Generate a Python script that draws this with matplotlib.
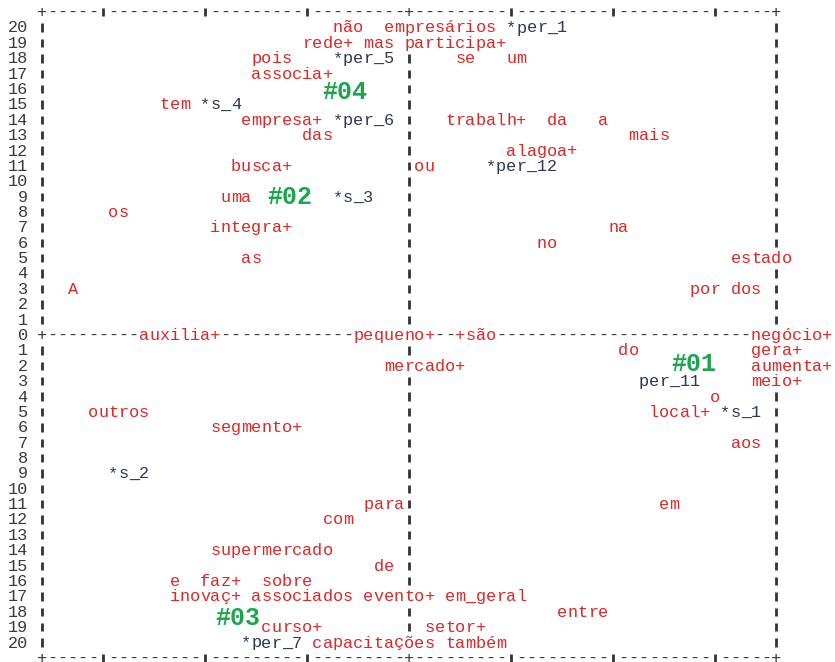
import numpy as np
import matplotlib.pyplot as plt

plt.rcParams['font.family'] = ['Liberation Mono', 'DejaVu Sans Mono']

RED = '#dc2828'
NAVY = '#2e3852'
GREEN = '#1aa64b'
FRAME = '#333333'

# words of the analysis: text, column, row (row > 0 above the axis, < 0 below)
red_words = ['não', 'empresários', 'rede+', 'mas', 'participa+', 'pois', 'se', 'um',
             'associa+', 'tem', 'empresa+', 'trabalh+', 'da', 'a', 'das', 'mais',
             'alagoa+', 'busca+', 'ou', 'uma', 'os', 'integra+', 'na', 'no', 'as',
             'estado', 'A', 'por', 'dos',
             'auxilia+', 'pequeno+', '+são', 'negócio+',
             'do', 'gera+', 'mercado+', 'aumenta+', 'meio+', 'o', 'outros', 'local+',
             'segmento+', 'aos', 'para', 'em', 'com', 'supermercado', 'de', 'e',
             'faz+', 'sobre', 'inovaç+', 'associados', 'evento+', 'em_geral',
             'entre', 'curso+', 'setor+', 'capacitações', 'também']
red_cols = [29, 34, 26, 32, 36, 21, 41, 46,
            21, 12, 20, 40, 50, 55, 26, 58,
            46, 19, 37, 18, 7, 17, 56, 49, 20,
            68, 3, 64, 68,
            10, 31, 41, 70,
            57, 70, 34, 70, 70, 66, 5, 60,
            17, 68, 32, 61, 28, 17, 33, 13,
            16, 22, 13, 21, 32, 40,
            51, 22, 38, 27, 40]
red_rows = [20, 20, 19, 19, 19, 18, 18, 18,
            17, 15, 14, 14, 14, 14, 13, 13,
            12, 11, 11, 9, 8, 7, 7, 6, 5,
            5, 3, 3, 3,
            0, 0, 0, 0,
            -1, -1, -2, -2, -3, -4, -5, -5,
            -6, -7, -11, -11, -12, -14, -15, -16,
            -16, -16, -17, -17, -17, -17,
            -18, -19, -19, -20, -20]

var_words = ['*per_1', '*per_5', '*s_4', '*per_6', '*per_12', '*s_3',
             'per_11', '*s_1', '*s_2', '*per_7']
var_cols = [46, 29, 16, 29, 44, 29, 59, 67, 7, 20]
var_rows = [20, 18, 15, 14, 11, 9, -3, -5, -9, -20]

class_labels = ['#04', '#02', '#01', '#03']
class_cols = [28.0, 22.6, 62.2, 17.5]
class_rows = [15.85, 9.0, -1.85, -18.4]

row_labels = [str(abs(r)) for r in range(20, -21, -1)]
row_values = list(range(20, -21, -1))

NCOL = 72       # frame spans columns 0..72
TICKS = [6, 16, 26, 46, 56, 66]

# character grid: frame first, then words on top
grid = {}
for c in range(NCOL + 1):
    ch = '+' if c in (0, 36, NCOL) else ('|' if c in TICKS else '-')
    grid[(c, 21)] = (ch, FRAME)
    grid[(c, -21)] = (ch, FRAME)
    grid[(c, 0)] = ('+' if c in (0, 36, NCOL) else '-', FRAME)
for r in row_values:
    if r != 0:
        for c in (0, 36, NCOL):
            grid[(c, r)] = ('|', FRAME)

for w, c, r in zip(red_words, red_cols, red_rows):
    for i, ch in enumerate(w):
        grid[(c + i, r)] = (ch, RED)
for w, c, r in zip(var_words, var_cols, var_rows):
    for i, ch in enumerate(w):
        grid[(c + i, r)] = (ch, NAVY)

fig = plt.figure(figsize=(8.35, 6.62), dpi=100)
ax = fig.add_axes([0, 0, 1, 1])
ax.set_xlim(-42 / 10.2, (835 - 42) / 10.2)
ax.set_ylim(-20 - 19 / 15.375, 20 + 28 / 15.375)
ax.axis('off')

bar_x = []
bar_y = []
for (c, r), (ch, col) in grid.items():
    if ch == ' ':
        continue
    if ch == '|':
        bar_x.append(c)
        bar_y.append(r)
    else:
        ax.text(c, r, ch, color=col, fontsize=12.2, ha='center', va='center')
bar_x = np.array(bar_x)
bar_y = np.array(bar_y)
ax.vlines(bar_x, bar_y - 0.25, bar_y + 0.3, color=FRAME, linewidth=2.0,
          capstyle='butt')

for lab, r in zip(row_labels, row_values):
    ax.text(-1.4, r, lab, color='#3a3a3a', fontsize=12.2, ha='right', va='center')

for lab, c, r in zip(class_labels, class_cols, class_rows):
    ax.text(c - 0.5, r, lab, color=GREEN, fontsize=18, fontweight='bold',
            ha='left', va='center')

plt.savefig('out.png', dpi=100)
